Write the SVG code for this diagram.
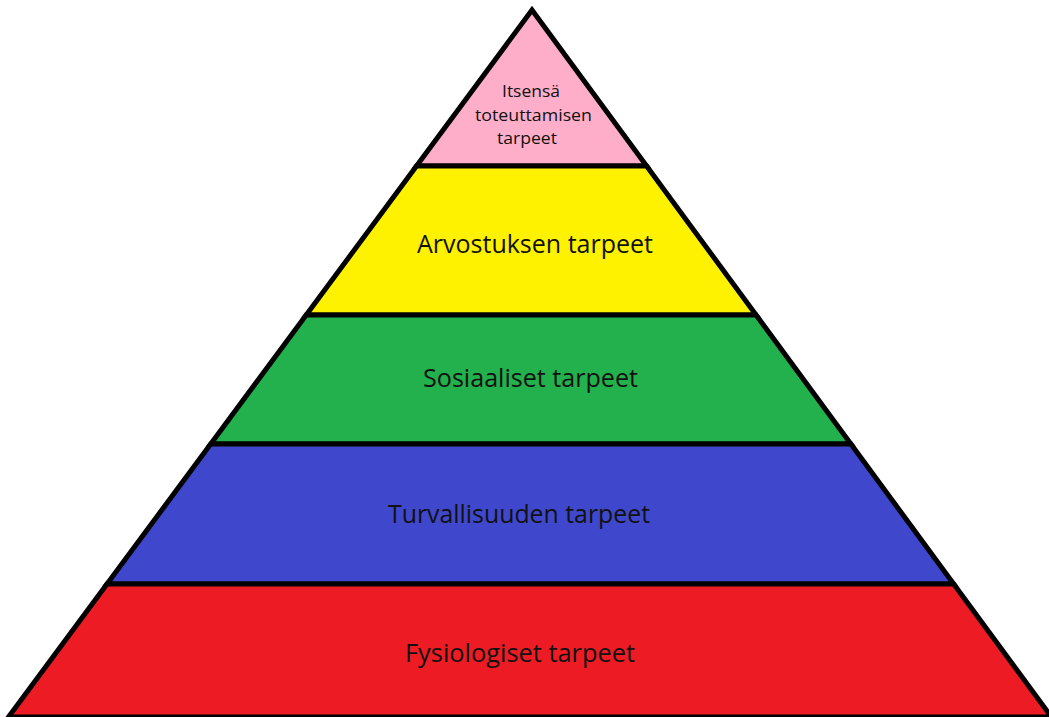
<svg xmlns="http://www.w3.org/2000/svg" width="1049" height="717" viewBox="0 0 1049 717">
<style>
.band{stroke:#000;stroke-width:5;stroke-linejoin:miter}
.lbl{font-family:"Open Sans","Noto Sans","Liberation Sans",sans-serif;fill:#111;text-anchor:middle}
.big{font-size:25px}
.small{font-size:17px}
</style>
<rect width="1049" height="717" fill="#fff"/>
<g id="level5">
<polygon class="band" fill="#FFAEC9" points="532,10 646.6,166 416.5,166"/>
<text class="lbl small" x="531" y="97" textLength="58" lengthAdjust="spacingAndGlyphs">Itsensä</text>
<text class="lbl small" x="533.5" y="120.5" textLength="117" lengthAdjust="spacingAndGlyphs">toteuttamisen</text>
<text class="lbl small" x="527" y="144" textLength="60" lengthAdjust="spacingAndGlyphs">tarpeet</text>
</g>
<g id="level4">
<polygon class="band" fill="#FFF200" points="416.5,166 646.6,166 756.1,315 306.2,315"/>
<text class="lbl big" x="535" y="253" textLength="236" lengthAdjust="spacingAndGlyphs">Arvostuksen tarpeet</text>
</g>
<g id="level3">
<polygon class="band" fill="#22B14C" points="306.2,315 756.1,315 850.9,444 210.7,444"/>
<text class="lbl big" x="530.5" y="387" textLength="215" lengthAdjust="spacingAndGlyphs">Sosiaaliset tarpeet</text>
</g>
<g id="level2">
<polygon class="band" fill="#3F48CC" points="210.7,444 850.9,444 953.7,584 107,584"/>
<text class="lbl big" x="519" y="523" textLength="262" lengthAdjust="spacingAndGlyphs">Turvallisuuden tarpeet</text>
</g>
<g id="level1">
<polygon class="band" fill="#ED1C24" points="107,584 953.7,584 1051.5,717 8.5,717"/>
<text class="lbl big" x="520" y="662" textLength="230" lengthAdjust="spacingAndGlyphs">Fysiologiset tarpeet</text>
</g>
<g id="connectors"></g>
</svg>
